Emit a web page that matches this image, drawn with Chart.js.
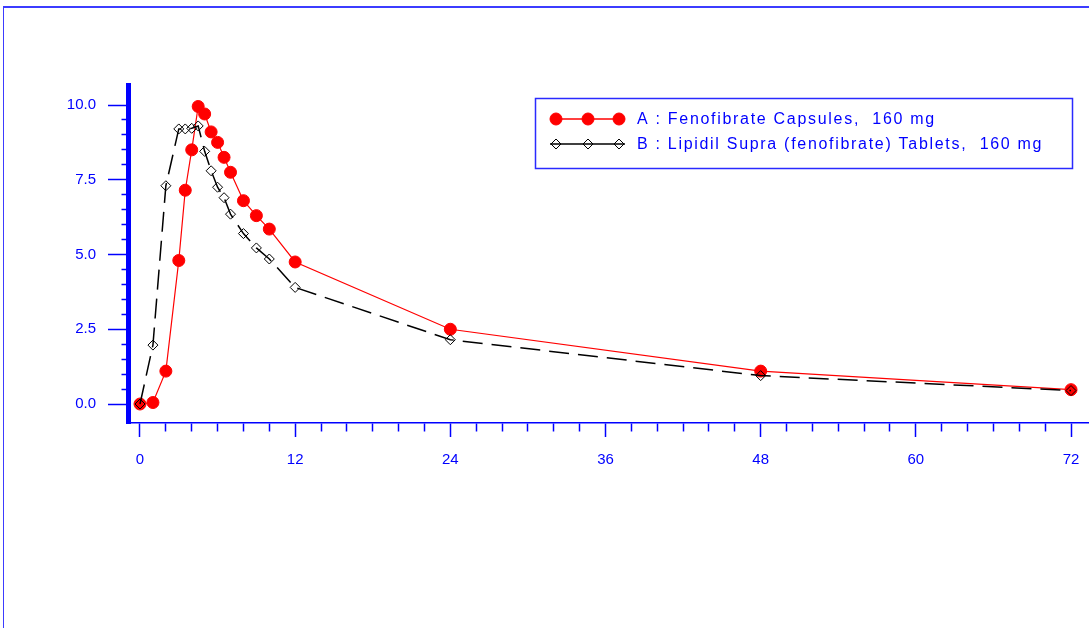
<!DOCTYPE html>
<html>
<head>
<meta charset="utf-8">
<script src="https://cdn.jsdelivr.net/npm/chart.js@4/dist/chart.umd.min.js"></script>
<style>
  html, body { margin: 0; padding: 0; background: #fff; }
  #wrap { position: relative; width: 1089px; height: 628px; overflow: hidden; }
  #frame { position: absolute; left: 3px; top: 6px; right: 0; bottom: 0;
           border-top: 2px solid #3c3cff; border-left: 1px solid #3c3cff; }
  canvas { position: absolute; left: 0; top: 0; }
</style>
</head>
<body>
<div id="wrap">
  <div id="frame"></div>
  <canvas id="pk" width="1089" height="628"></canvas>
</div>
<script>
// hours after dose
const hours = [0, 1, 2, 3, 3.5, 4, 4.5, 5, 5.5, 6, 6.5, 7, 8, 9, 10, 12, 24, 48, 72];
// mean concentration, A: capsules
const capsules = [0, 0.05, 1.1, 4.8, 7.15, 8.5, 9.95, 9.7, 9.1, 8.75, 8.25, 7.75, 6.8, 6.3, 5.85, 4.75, 2.5, 1.1, 0.48];
// mean concentration, B: tablets
const tablets = [0, 1.97, 7.3, 9.2, 9.2, 9.22, 9.3, 8.45, 7.8, 7.25, 6.9, 6.35, 5.7, 5.22, 4.85, 3.9, 2.15, 0.95, 0.45];

const xTicks = [0, 2, 4, 6, 8, 10, 12, 14, 16, 18, 20, 22, 24, 26, 28, 30, 32, 34, 36,
  38, 40, 42, 44, 46, 48, 50, 52, 54, 56, 58, 60, 62, 64, 66, 68, 70, 72];
const yTicks = [0, 0.5, 1, 1.5, 2, 2.5, 3, 3.5, 4, 4.5, 5, 5.5, 6, 6.5, 7, 7.5, 8, 8.5, 9, 9.5, 10];
const legendLabels = ['A : Fenofibrate Capsules,  160 mg', 'B : Lipidil Supra (fenofibrate) Tablets,  160 mg'];

const BLUE = '#0000ff';

const pointsOf = (ys) => hours.map((h, i) => ({ x: h, y: ys[i] }));

// legend box with a line and three markers per entry
const boxLegend = {
  id: 'boxLegend',
  afterDraw(chart) {
    const ctx = chart.ctx;
    ctx.save();
    ctx.strokeStyle = '#2a2aff';
    ctx.lineWidth = 1.5;
    ctx.strokeRect(535.5, 98.5, 537, 70);

    chart.data.datasets.forEach((ds, i) => {
      const y = 119 + i * 25;
      ctx.setLineDash([]);
      ctx.strokeStyle = ds.borderColor;
      ctx.lineWidth = 1.5;
      ctx.beginPath();
      ctx.moveTo(550, y);
      ctx.lineTo(625, y);
      ctx.stroke();
      [556, 588, 619].forEach((px) => {
        ctx.fillStyle = ds.pointBackgroundColor;
        ctx.strokeStyle = ds.pointBorderColor;
        ctx.lineWidth = ds.pointBorderWidth;
        Chart.helpers.drawPoint(ctx, {
          pointStyle: ds.pointStyle, radius: ds.pointRadius, rotation: 0, borderWidth: ds.pointBorderWidth
        }, px, y);
      });
      ctx.fillStyle = BLUE;
      ctx.font = '16px "Liberation Sans", Arial, sans-serif';
      ctx.letterSpacing = '1.7px';
      ctx.textBaseline = 'middle';
      ctx.fillText(legendLabels[i], 637, y + 1);
    });
    ctx.restore();
  }
};

new Chart(document.getElementById('pk'), {
  type: 'line',
  data: {
    datasets: [
      {
        label: legendLabels[0],
        data: pointsOf(capsules),
        borderColor: '#ff0000',
        borderWidth: 1.2,
        pointStyle: 'circle',
        pointRadius: 6,
        pointBackgroundColor: '#ff0000',
        pointBorderColor: '#ff0000',
        pointBorderWidth: 1,
        order: 1
      },
      {
        label: legendLabels[1],
        data: pointsOf(tablets),
        borderColor: '#000000',
        borderWidth: 1.5,
        borderDash: [20, 9],
        pointStyle: 'rectRot',
        pointRadius: 5,
        pointBackgroundColor: 'rgba(255,255,255,0)',
        pointBorderColor: '#000000',
        pointBorderWidth: 1,
        order: 0
      }
    ]
  },
  options: {
    responsive: false,
    animation: false,
    layout: { autoPadding: false, padding: { top: 85, left: 0, right: 0, bottom: 0 } },
    plugins: { legend: { display: false }, tooltip: { enabled: false } },
    scales: {
      x: {
        type: 'linear',
        min: -0.928,
        max: 73.39,
        afterBuildTicks: (s) => { s.ticks = xTicks.map((v) => ({ value: v })); },
        afterFit: (s) => { s.height = 205; s.paddingLeft = 0; s.paddingRight = 0; },
        border: { color: BLUE, width: 1.5 },
        grid: {
          drawOnChartArea: false,
          tickLength: 14,
          tickColor: BLUE,
          tickWidth: 1.5,
          tickBorderDash: (c) => (c.tick && c.tick.value % 12 === 0 ? [] : [8, 100])
        },
        ticks: {
          autoSkip: false,
          maxRotation: 0,
          padding: 14,
          color: BLUE,
          font: { family: '"Liberation Sans", Arial, sans-serif', size: 15 },
          callback: (v) => (v % 12 === 0 ? String(v) : '')
        }
      },
      y: {
        min: -0.635,
        max: 10.669,
        afterBuildTicks: (s) => { s.ticks = yTicks.map((v) => ({ value: v })); },
        afterFit: (s) => { s.width = 128; },
        border: { color: BLUE, width: 5 },
        grid: {
          drawOnChartArea: false,
          tickLength: 20,
          tickColor: BLUE,
          tickWidth: 1.5,
          tickBorderDash: (c) => (c.tick && c.tick.value % 2.5 === 0 ? [] : [0, 13.5, 6.5, 100])
        },
        ticks: {
          autoSkip: false,
          padding: 12,
          color: BLUE,
          font: { family: '"Liberation Sans", Arial, sans-serif', size: 15 },
          callback: (v) => (v % 2.5 === 0 ? v.toFixed(1) : '')
        }
      }
    }
  },
  plugins: [boxLegend]
});
</script>
</body>
</html>
